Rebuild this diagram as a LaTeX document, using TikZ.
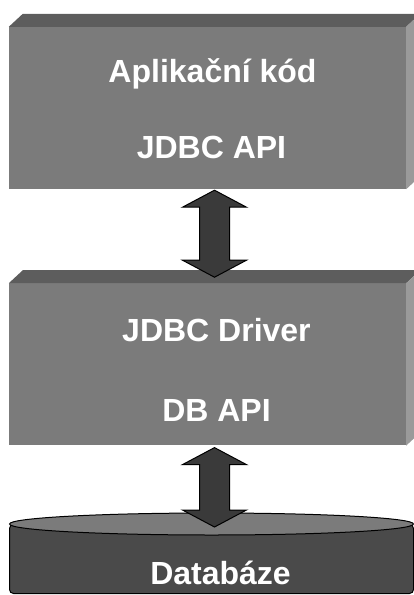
\documentclass[tikz,border=0pt]{standalone}
\usepackage{fontspec}
\setmainfont{Liberation Sans}
\usetikzlibrary{positioning,calc}

\definecolor{frontgray}{HTML}{7B7B7B}
\definecolor{topgray}{HTML}{5D5D5D}
\definecolor{sidegray}{HTML}{9A9A9A}
\definecolor{dbgray}{HTML}{4A4A4A}
\definecolor{arrowgray}{HTML}{3A3A3A}

% fat double arrow between two points (top, bottom)
\newcommand{\fatarrow}[2]{%
  \draw[fat] let \p1=(#1), \p2=(#2) in
    (\x1,\y1) -- (\x1+32pt,\y1-17pt) -- (\x1+15pt,\y1-17pt)
    -- (\x1+15pt,\y2+17pt) -- (\x1+32pt,\y2+17pt) -- (\x1,\y2)
    -- (\x1-32pt,\y2+17pt) -- (\x1-15pt,\y2+17pt)
    -- (\x1-15pt,\y1-17pt) -- (\x1-32pt,\y1-17pt) -- cycle;}

\begin{document}
\begin{tikzpicture}[
    x=1pt, y=-1pt,
    node distance=94pt,
    front/.style={fill=frontgray, minimum width=397pt, minimum height=162pt, inner sep=0pt},
    dbbody/.style={fill=dbgray, draw=black, line width=1pt, rounded corners=4pt,
      minimum width=404pt, minimum height=69pt, inner sep=0pt},
    boxtext/.style={text=white, font=\fontsize{32}{38}\selectfont\bfseries, anchor=base, inner sep=0pt},
    fat/.style={fill=arrowgray, draw=black, line width=1pt, line join=miter}
  ]
  \clip (0,0) rectangle (414,595);

  % Layers
  \node[front] (app) at (207.5,108) {};
  \node[front, below=of app] (drv) {};
  \node[dbbody, anchor=north west] (db) at (9,524) {};

  % 3D faces of the boxes
  \foreach \b in {app,drv} {
    \fill[topgray] (\b.north west) -- ++(14,-13) -- ($(\b.north east)+(14,-13)$)
      -- (\b.north east) -- cycle;
    \fill[sidegray] (\b.north east) -- ++(14,-13) -- ($(\b.south east)+(14,-13)$)
      -- (\b.south east) -- cycle;
  }

  % Database top
  \draw[fill=frontgray, line width=1pt] (db.north) ellipse (202 and 11);

  % Texts
  \node[boxtext] (appcode) at ($(app.north)+(5,56)$) {Aplikační kód};
  \node[boxtext] (jdbcapi) at ($(app.north)+(4,132)$) {JDBC API};
  \node[boxtext] (driver) at ($(drv.north)+(9,58)$) {JDBC Driver};
  \node[boxtext] (dbapi) at ($(drv.north)+(9,138)$) {DB API};
  \node[boxtext] (dbname) at ($(db.north)+(9,60)$) {Databáze};

  % Connections
  \coordinate (a1) at ($(app.south)+(7,1)$);
  \coordinate (a2) at ($(drv.north)+(7,-6)$);
  \coordinate (b1) at ($(drv.south)+(7,2)$);
  \coordinate (b2) at ($(db.north)+(4,3)$);
  \fatarrow{a1}{a2}
  \fatarrow{b1}{b2}
\end{tikzpicture}
\end{document}
